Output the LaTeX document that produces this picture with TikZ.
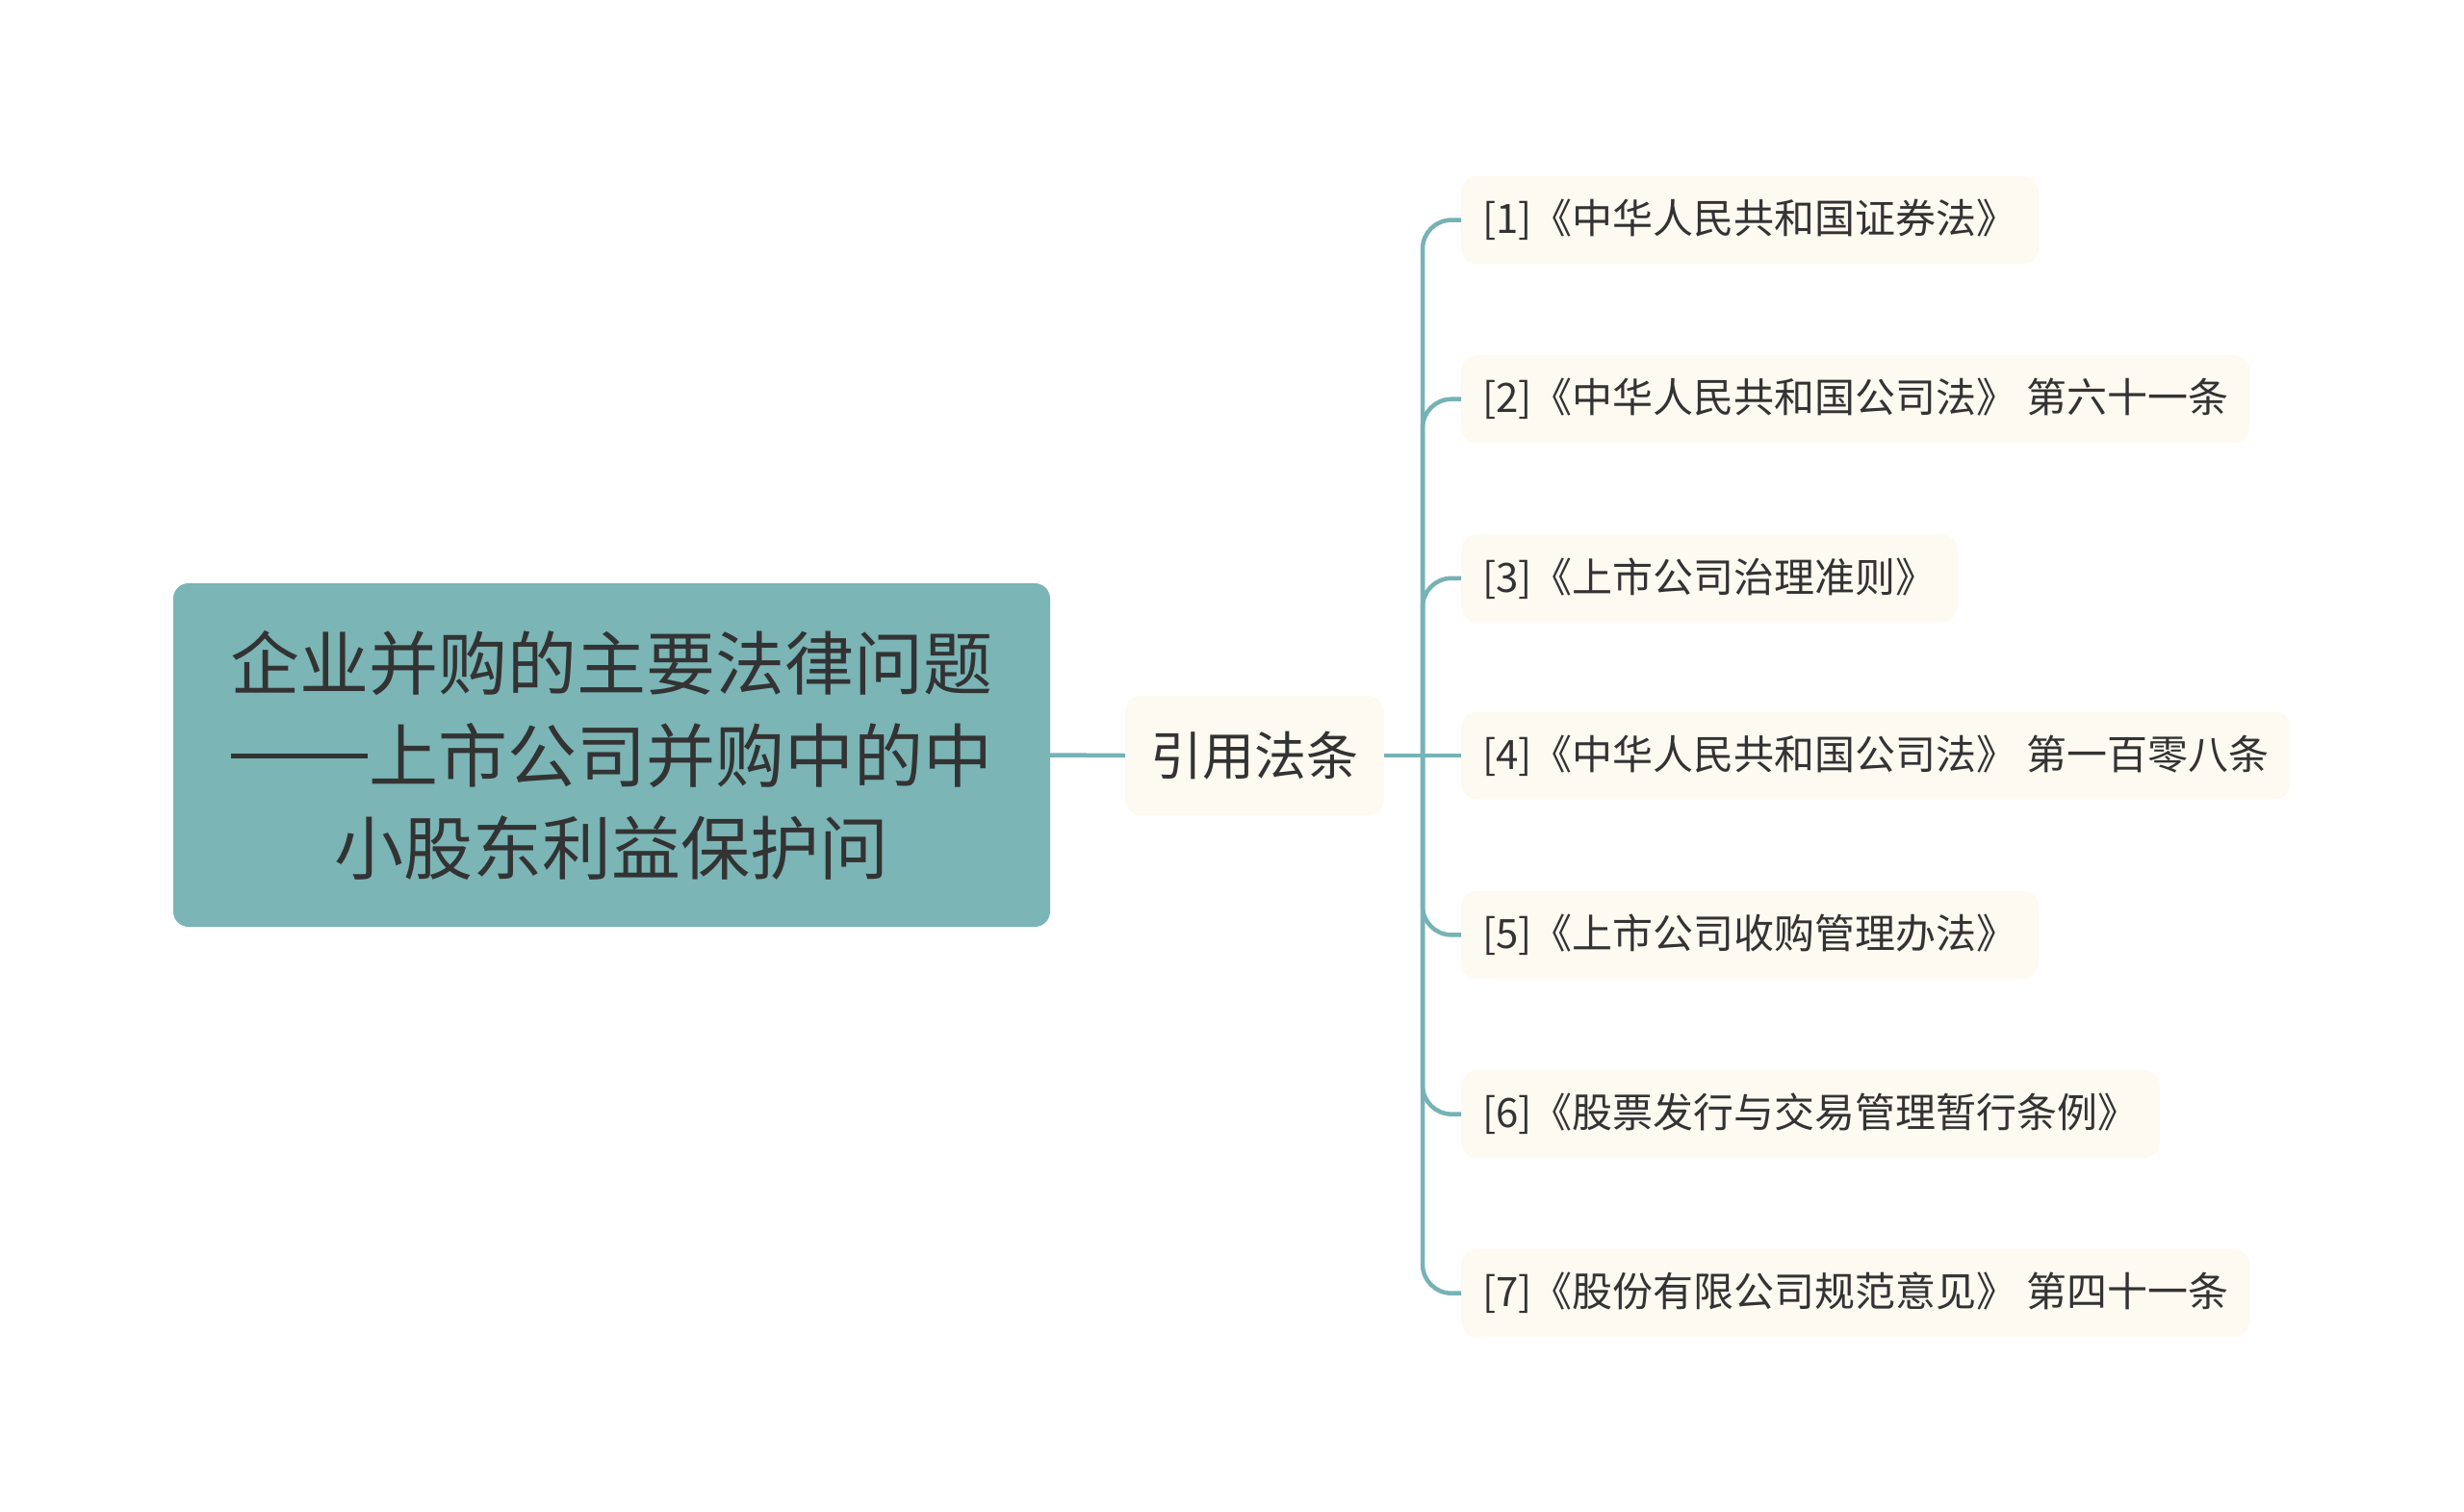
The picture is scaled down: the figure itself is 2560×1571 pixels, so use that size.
\documentclass[tikz,border=0pt]{standalone}
\usepackage{fontspec}
\setmainfont{Noto Sans CJK SC}
\definecolor{rootfill}{HTML}{7BB5B6}
\definecolor{cream}{HTML}{FCFAF1}
\definecolor{txt}{HTML}{333333}
\definecolor{conn}{HTML}{76B2B6}
\newcommand{\widedash}{\rule[0.34em]{1.98em}{0.07em}\hspace{0.02em}}
\tikzset{
  rootbox/.style={fill=rootfill, rounded corners=16pt, text=txt, align=center,
    minimum width=911pt, minimum height=357pt, inner sep=0pt,
    font=\fontsize{72}{96}\selectfont},
  midbox/.style={fill=cream, rounded corners=16pt, text=txt,
    minimum width=269pt, minimum height=124pt, inner sep=0pt,
    font=\fontsize{54}{64}\selectfont},
  leafbox/.style={fill=cream, rounded corners=16pt, text=txt, anchor=west,
    inner xsep=22pt, inner ysep=0pt, minimum height=91pt,
    font=\fontsize{42}{50}\selectfont},
  link/.style={draw=conn, line width=4.5pt},
}
\begin{document}
\begin{tikzpicture}[x=1pt,y=-1pt]
\useasboundingbox (0,0) rectangle (2560,1571);
\node[rootbox] (root) at (635.5,784.5) {企业并购的主要法律问题\\\widedash 上市公司并购中的中\\小股东利益保护问};
\node[midbox] (mid) at (1303.5,785) {引用法条};
\coordinate (trunk) at (1478,785);
\node[leafbox] (c1) at (1518,228.6) {[1]《中华人民共和国证券法》};
\node[leafbox] (c2) at (1518,414.7) {[2]《中华人民共和国公司法》 第六十一条};
\node[leafbox] (c3) at (1518,600.8) {[3]《上市公司治理准则》};
\node[leafbox] (c4) at (1518,785) {[4]《中华人民共和国公司法》 第一百零八条};
\node[leafbox] (c5) at (1518,971.4) {[5]《上市公司收购管理办法》};
\node[leafbox] (c6) at (1518,1157.6) {[6]《股票发行与交易管理暂行条例》};
\node[leafbox] (c7) at (1518,1343.7) {[7]《股份有限公司规范意见》 第四十一条};
\draw[link] (root.east) -- (mid.west);
\draw[link] (mid.east) -- (c4.west);
\foreach \c in {c1,c2,c3,c5,c6,c7}{
  \draw[link, rounded corners=30pt] (trunk) |- (\c.west);
}
\end{tikzpicture}
\end{document}
